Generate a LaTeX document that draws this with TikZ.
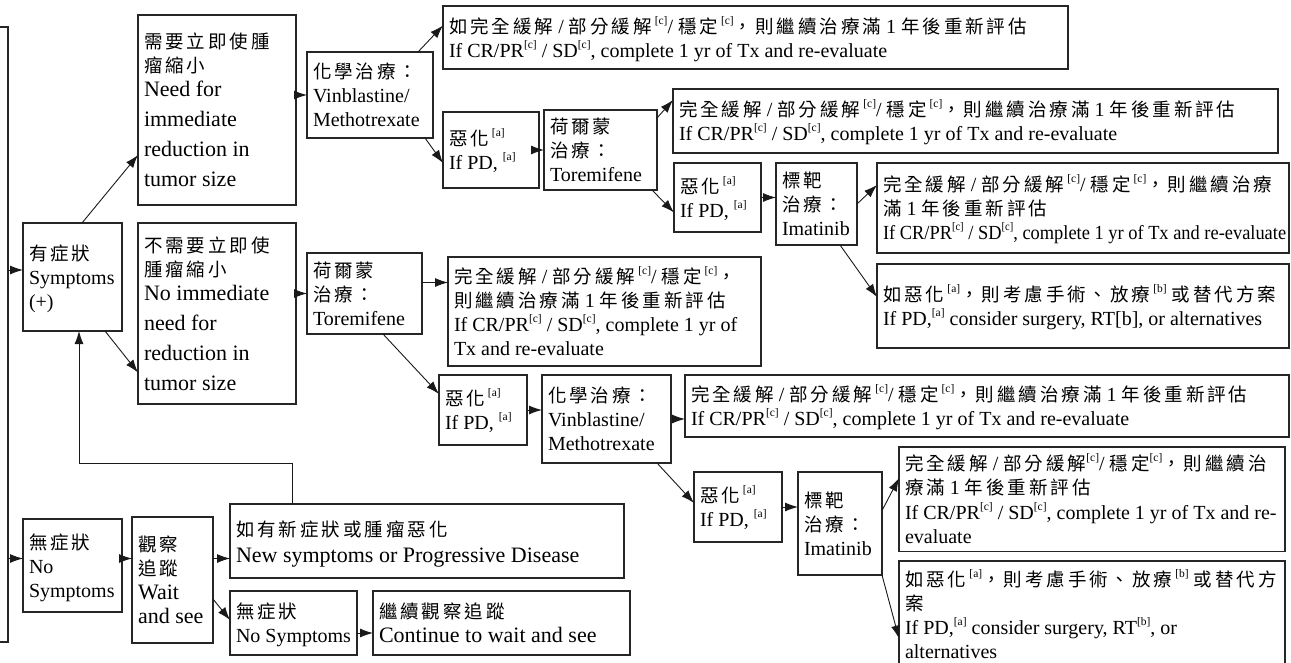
\documentclass[tikz,border=0pt]{standalone}
\usepackage{fontspec}
\usepackage{graphicx}
\setmainfont{Liberation Serif}
\newfontfamily\cjkfont[LetterSpace=16]{Noto Sans CJK TC}
\usetikzlibrary{arrows.meta,calc}
\hyphenpenalty=10000
\exhyphenpenalty=10000
% Chinese run, set in the CJK family
\newcommand\zh[1]{{\cjkfont\fontsize{18.5}{18.5}\selectfont #1}}
% bracketed note marker
\newcommand\fn[1]{\raisebox{0.45em}{\fontsize{11.5}{11.5}\selectfont[#1]}}
% note marker after a Chinese word, with a small gap
\newcommand\fz[1]{\hspace{3pt}\fn{#1}}
% horizontally condensed text
\newcommand\sqz[2]{\scalebox{#1}[1]{#2}}
% box: [options]{name}{x1}{y1}{x2}{y2}{lines}, corners in points, y downwards
\newcommand\bx[7][]{%
  \pgfmathsetmacro\bxw{#5-(#3)}%
  \pgfmathsetmacro\bxh{#6-(#4)}%
  \pgfmathsetmacro\bxt{#5-(#3)-12}%
  \node[box,minimum width=\bxw pt,minimum height=\bxh pt,#1] (#2) at (#3pt,-#4pt)
    {\vbox{\kern6pt\hbox{\makebox[\bxt pt][l]{\begin{tabular}{@{}l@{}}#7\end{tabular}}}}};}
\tikzset{
  box/.style={draw=black!85, line width=1.1pt, anchor=north west, inner xsep=6pt,
    inner ysep=1pt, outer sep=0pt, font=\fontsize{20}{24}\selectfont},
  big/.style={font=\fontsize{22}{24}\selectfont},
  bigl/.style={font=\fontsize{22}{26}\selectfont},
  arr/.style={draw=black!90, line width=0.9pt, -{Latex[length=13pt,width=9pt]}},
}
\begin{document}
\begin{tikzpicture}[x=1pt,y=1pt]
\useasboundingbox (0,0) rectangle (1291,-662);

% ---- left column ----
\bx{root}{-10}{27}{8}{642}{}
\bx{sym}{23}{223}{122}{331}{\zh{有症狀}\\Symptoms\\(+)}
\bx{nosym}{23}{519}{122}{612}{\zh{無症狀}\\No\\Symptoms}
\bx[big]{need}{138}{15}{296}{205}{\zh{需要立即使腫}\\\zh{瘤縮小}\\Need for\\[6pt]immediate\\[6pt]reduction in\\[6pt]tumor size}
\bx[big]{noneed}{138}{223}{296}{404}{\zh{不需要立即使}\\\zh{腫瘤縮小}\\No immediate\\[6pt]need for\\[6pt]reduction in\\[6pt]tumor size}
\bx[big]{wait}{132}{517}{213}{643}{\zh{觀察}\\\zh{追蹤}\\Wait\\and see}
\bx[bigl]{newsym}{230}{504}{624}{578}{\zh{如有新症狀或腫瘤惡化}\\New symptoms or Progressive Disease}
\bx{nosym2}{230}{591}{357}{655}{\zh{無症狀}\\No Symptoms}
\bx[big]{cont}{373}{591}{630}{655}{\zh{繼續觀察追蹤}\\Continue to wait and see}

% ---- upper branch: chemotherapy first ----
\bx{chem1}{307}{52}{433}{138}{\zh{化學治療：}\\Vinblastine/\\Methotrexate}
\bx{res1}{443}{6}{1068}{69}{\zh{如完全緩解} / \zh{部分緩解}\fz{c}/ \zh{穩定}\fz{c}\zh{，則繼續治療滿} 1 \zh{年後重新評估}\\If CR/PR\fn{c} / SD\fn{c}, complete 1 yr of Tx and re-evaluate}
\bx{pd1}{443}{112}{539}{188}{\zh{惡化}\fz{a}\\If PD, \fn{a}}
\bx{hor2}{544}{110}{657}{190}{\zh{荷爾蒙}\\\zh{治療：}\\Toremifene}
\bx{res2}{673}{89}{1278}{153}{\zh{完全緩解} / \zh{部分緩解}\fz{c}/ \zh{穩定}\fz{c}\zh{，則繼續治療滿} 1 \zh{年後重新評估}\\If CR/PR\fn{c} / SD\fn{c}, complete 1 yr of Tx and re-evaluate}
\bx{pd2}{674}{163}{761}{232}{\zh{惡化}\fz{a}\\If PD, \fn{a}}
\bx{tgt1}{776}{163}{857}{245}{\zh{標靶}\\\zh{治療：}\\Imatinib}
\bx{res3}{877}{163}{1289}{253}{\zh{完全緩解} / \zh{部分緩解}\fz{c}/ \zh{穩定}\fz{c}\zh{，則繼續治療}\\\zh{滿} 1 \zh{年後重新評估}\\\sqz{0.92}{If CR/PR\fn{c} / SD\fn{c}, complete 1 yr of Tx and re-evaluate}}
\bx{res4}{877}{264}{1289}{348}{\zh{如惡化}\fz{a}\zh{，則考慮手術、放療}\fz{b} \zh{或替代方案}\\If PD,\fn{a} consider surgery, RT[b], or alternatives}

% ---- lower branch: hormone therapy first ----
\bx{hor1}{307}{253}{422}{334}{\zh{荷爾蒙}\\\zh{治療：}\\Toremifene}
\bx{res5}{448}{257}{761}{366}{\zh{完全緩解} / \zh{部分緩解}\fz{c}/ \zh{穩定}\fz{c}\zh{，}\\\zh{則繼續治療滿} 1 \zh{年後重新評估}\\If CR/PR\fn{c} / SD\fn{c}, complete 1 yr of\\Tx and re-evaluate}
\bx{pd3}{439}{375}{527}{445}{\zh{惡化}\fz{a}\\If PD, \fn{a}}
\bx{chem2}{542}{375}{671}{463}{\zh{化學治療：}\\Vinblastine/\\Methotrexate}
\bx{res6}{685}{375}{1289}{437}{\zh{完全緩解} / \zh{部分緩解}\fz{c}/ \zh{穩定}\fz{c}\zh{，則繼續治療滿} 1 \zh{年後重新評估}\\If CR/PR\fn{c} / SD\fn{c}, complete 1 yr of Tx and re-evaluate}
\bx{pd4}{694}{472}{782}{542}{\zh{惡化}\fz{a}\\If PD, \fn{a}}
\bx{tgt2}{798}{472}{882}{575}{\zh{標靶}\\\zh{治療：}\\Imatinib}
\bx{res7}{899}{447}{1285}{550}{\zh{完全緩解} / \zh{部分緩解}\fn{c}/ \zh{穩定}\fn{c}\zh{，則繼續治}\\\zh{療滿} 1 \zh{年後重新評估}\\If CR/PR\fn{c} / SD\fn{c}, complete 1 yr of Tx and re-\\evaluate}
\bx{res8}{899}{561}{1285}{668}{\zh{如惡化}\fz{a}\zh{，則考慮手術、放療}\fz{b} \zh{或替代方}\\\zh{案}\\If PD,\fn{a} consider surgery, RT\fn{b}, or\\alternatives}

% ---- connectors ----
\draw[arr] ($(root.east |- sym.west)+(0,7)$) -- ($(sym.west)+(0,7)$);
\draw[arr] ($(root.east |- nosym.west)+(0,7)$) -- ($(nosym.west)+(0,7)$);
\draw[arr] ($(sym.north east)+(-40,0)$) -- ($(need.west)+(0,-45)$);
\draw[arr] ($(sym.south east)+(-17,0)$) -- ($(noneed.west)+(0,-59)$);
\draw[arr] (need.east |- chem1.west) -- (chem1.west);
\draw[arr] (noneed.east |- hor1.west) -- (hor1.west);

\draw[arr] ($(chem1.north east)+(-15,0)$) -- ($(res1.west)+(0,12)$);
\draw[arr] ($(chem1.south east)+(-8,0)$) -- ($(pd1.west)+(0,-13)$);
\draw[arr] (pd1.east) -- (pd1.east -| hor2.west);
\draw[arr] ($(hor2.north east)+(0,-8)$) -- ($(res2.west)+(0,21)$);
\draw[arr] ($(hor2.south east)+(-5,0)$) -- ($(pd2.west)+(0,-15)$);
\draw[arr] (pd2.east) -- (pd2.east -| tgt1.west);
\draw[arr] (tgt1.east) -- ($(res3.west)+(0,23)$);
\draw[arr] ($(tgt1.south east)+(-17,0)$) -- ($(res4.west)+(0,9)$);

\draw[arr] ($(hor1.east)+(0,11)$) -- ($(hor1.east -| res5.west)+(0,11)$);
\draw[arr] ($(hor1.south east)+(-39,0)$) -- ($(pd3.west)+(0,16)$);
\draw[arr] (pd3.east) -- (pd3.east -| chem2.west);
\draw[arr] (chem2.east) -- (chem2.east -| res6.west);
\draw[arr] ($(chem2.south east)+(-14,0)$) -- ($(pd4.west)+(0,4)$);
\draw[arr] (pd4.east) -- (pd4.east -| tgt2.west);
\draw[arr] ($(tgt2.east)+(0,13)$) -- ($(res7.west)+(0,21)$);
\draw[arr] (tgt2.south east) -- ($(res8.west)+(0,-24)$);

\draw[arr] ($(nosym.east)+(0,7)$) -- ($(nosym.east -| wait.west)+(0,7)$);
\draw[arr] ($(wait.east |- nosym.east)+(0,7)$) -- ($(nosym.east -| newsym.west)+(0,7)$);
\draw[arr] ($(wait.east)+(0,-19)$) -- ($(nosym2.west)+(0,3)$);
\draw[arr] ($(nosym2.east)+(0,-10)$) -- ($(nosym2.east -| cont.west)+(0,-10)$);
\draw[arr] ($(newsym.north)+(-135,0)$) -- ++(0,41) -| ($(sym.south)+(6.5,0)$);
\end{tikzpicture}
\end{document}
